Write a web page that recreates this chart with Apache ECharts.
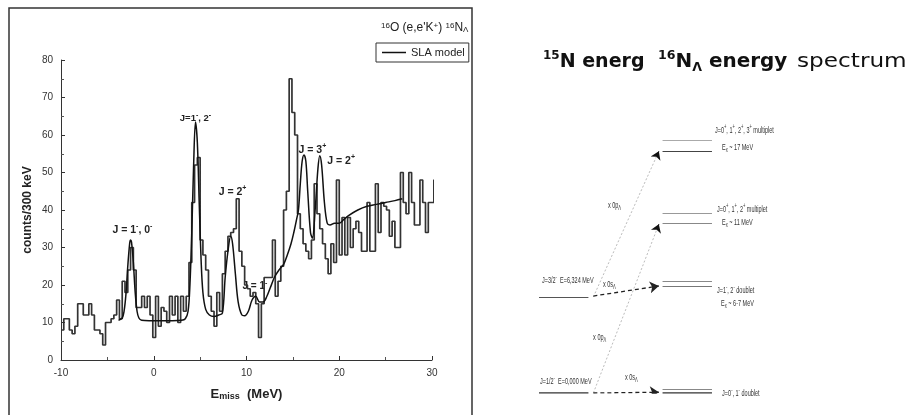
<!DOCTYPE html>
<html><head><meta charset="utf-8">
<script src="https://cdn.jsdelivr.net/npm/echarts@6/dist/echarts.min.js"></script>
<style>html,body{margin:0;padding:0;background:#fff}#c{width:913px;height:415px}</style>
</head><body><div id="c"></div>
<script>
// ---------- DATA ----------
// Histogram: counts per 300 keV bin, bins start at -10 MeV (last entry = closing edge value)
const binStart = -10;
const binWidth = 0.3;
const counts = [
  8,11,11,8,7,9,15,15,12,12, 15,12,8,8,7,4,10,10,11,12,
  16,11,21,18,24,30,24,14,14,17, 14,17,12,6,17,9,14,13,10,17,
  12,17,10,17,13,17,26,42,52,54, 32,28,24,17,13,9,18,13,23,29,
  33,34,35,43,29,25,20,19,17,18, 15,6,15,22,22,22,32,17,21,25,
  40,45,75,66,60,39,35,31,29,27, 32,47,39,35,31,27,23,31,26,48,
  28,38,28,38,30,35,37,34,29,29, 42,29,29,47,34,42,41,40,33,37,
  30,30,50,42,39,50,42,36,36,48, 42,34,42,42,48,36,36,31
];
// SLA model curve
const slaE = [-3.8,-3.4,-3.2,-3.0,-2.8,-2.6,-2.5,-2.4,-2.2,-2.0,-1.8,-1.6,-1.3,-0.5,1,2,3,3.4,3.7,3.9,
  4.1,4.3,4.5,4.7,4.9,5.1,5.3,5.6,6.0,6.5,7.0,7.4,7.7,8.0,8.3,8.5,8.8,9.1,9.5,9.8,
  10.2,10.6,11.0,11.4,11.8,12.2,12.6,13.0,13.5,14.0,14.4,14.8,15.1,15.4,15.6,15.8,16.0,16.2,16.4,16.6,
  16.9,17.1,17.4,17.7,17.9,18.1,18.4,18.7,19.0,19.5,20.0,20.5,21.0,22.0,23.0,24.0,25.0,26.0,26.8];
const slaCounts = [10.6,11.2,13,17.5,25,31,32,31.5,26,18,13,11.2,10.6,10.5,10.5,10.5,10.6,11,13,20,
  34,52,63.5,58,42,27,18,13.5,12,11.6,12,12.5,22,29,33,31,23,15.5,12,11.8,
  13,16,17,15.5,15.5,17,19.5,22,24,25.5,28,31,34,37.5,40,47,53,54.7,53,45,
  34,32.5,40,51,54.5,52,42,36.5,36,36.5,36.5,37.5,38.5,40,41,41.5,42,42.5,43];
// Peak annotations (MeV, counts)
const annoText = ['J = 1{sup|-}, 0{sup|-}','J=1{sup|-}, 2{sup|-}','J = 2{sup|+}','J = 1{sup|-}','J = 3{sup|+}','J = 2{sup|+}'];
const annoX = [-2.3, 4.5, 8.5, 10.9, 17.1, 20.2];
const annoY = [34.7, 64.5, 44.8, 19.7, 56, 53];
const xTicks = [-10, 0, 10, 20, 30];

// Level diagram (energies in MeV-like diagram units)
const coreLevelE = [0, 6.32];
const hyperLevelE = [0, 0.26, 7.04, 7.37, 11.18, 11.84, 15.92, 16.64];
const transFrom = [0, 6.38, 0, 6.32];
const transTo = [0.05, 7.04, 11.1, 15.9];
const transKind = ['s','s','p','p'];
const diagText = ['J=1/2{sup|-}  E=0,000 MeV','J=3/2{sup|-}  E=6,324 MeV','x 0s{sub|Λ}','x 0s{sub|Λ}','x 0p{sub|Λ}','x 0p{sub|Λ}',
  'J=0{sup|-}, 1{sup|-} doublet','J=1{sup|-}, 2{sup|-} doublet','E{sub|x} ~ 6-7 MeV',
  'J=0{sup|+}, 1{sup|+}, 2{sup|+} multiplet','E{sub|x} ~ 11 MeV','J=0{sup|+}, 1{sup|+}, 2{sup|+}, 3{sup|+} multiplet','E{sub|x} ~ 17 MeV'];
const diagTextX = [0.04,0.12,3.48,2.59,2.19,2.79,7.41,7.2,7.37,7.2,7.41,7.12,7.41];
const diagTextE = [0.79,7.43,1.05,7.17,3.68,12.37,0,6.78,5.92,12.1,11.25,17.3,16.18];

// ---------- CHART ----------
const F = '"Liberation Sans", Arial, sans-serif';
const D = '"DejaVu Sans", Verdana, sans-serif';
const CORE_X = [0, 2], HYP_X = [5, 7], ARR_X = [2.2, 4.85];

const histData = counts.map((c, i) => [binStart + i * binWidth, c]);
const slaData = slaE.map((e, i) => [e, slaCounts[i]]);

const coreStyles = [{color:'#333', width:2.6}, {color:'#555', width:1}];
const hypStyles = [{color:'#333', width:2.6},{color:'#888', width:1},{color:'#777', width:1},{color:'#888', width:1},
  {color:'#888', width:1.2},{color:'#999', width:1},{color:'#444', width:1.2},{color:'#aaa', width:1}];
const levelLines = [];
coreLevelE.forEach((e, i) => levelLines.push({coords:[[CORE_X[0], e],[CORE_X[1], e]], lineStyle: coreStyles[i]}));
hyperLevelE.forEach((e, i) => levelLines.push({coords:[[HYP_X[0], e],[HYP_X[1], e]], lineStyle: hypStyles[i]}));

const sLines = [], pLines = [], pHeads = [];
transKind.forEach((k, i) => {
  const a = [ARR_X[0], transFrom[i]], b = [ARR_X[1], transTo[i]];
  if (k === 's') sLines.push({coords:[a, b]});
  else {
    pLines.push({coords:[a, b]});
    const t = 0.985;
    pHeads.push({coords:[[a[0] + (b[0]-a[0])*t, a[1] + (b[1]-a[1])*t], b]});
  }
});

const supSub = (fs, w, fam, col) => ({
  base: {fontSize: fs, fontWeight: w, fontFamily: fam, lineHeight: fs + 4, color: col, fill: col},
  sup: {fontSize: Math.round(fs*0.7), fontWeight: w, fontFamily: fam, color: col, fill: col, verticalAlign: 'top', lineHeight: Math.round(fs*0.7)+1},
  sub: {fontSize: Math.round(fs*0.7), fontWeight: w, fontFamily: fam, color: col, fill: col, verticalAlign: 'bottom', lineHeight: Math.round(fs*0.7)+1}
});
const toRich = s => '{base|' + s.replace(/\{(sup|sub)\|([^}]*)\}/g, '}{$1|$2}{base|') + '}';

const annoData = annoX.map((x, i) => ({value:[x, annoY[i]], name: annoText[i]}));
const annoFont = [10.5, 9.5, 10.5, 10, 10.5, 10.5];
const diagData = diagTextX.map((x, i) => [x, diagTextE[i]]);
const diagRich = supSub(9.5, 'normal', F, '#333');

const chart = echarts.init(document.getElementById('c'));
chart.setOption({
  animation: false,
  backgroundColor: '#fff',
  title: {
    text: '{sup|16}O (e,e\'K{sup|+}) {sup|16}N{sub|Λ}',
    left: 376, top: 17,
    textStyle: {fontSize: 12, fontWeight: 'normal', fontFamily: F, color: '#222', rich: {
      sup: {fontSize: 8, fontFamily: F, color:'#222', verticalAlign: 'top', lineHeight: 8},
      sub: {fontSize: 8, fontFamily: F, color:'#222', verticalAlign: 'bottom', lineHeight: 8}}}
  },
  legend: {
    data: ['SLA model'], left: 376, top: 43,
    icon: 'rect', itemWidth: 24, itemHeight: 1.5, itemGap: 6,
    borderColor: '#333', borderWidth: 1, padding: [4, 4, 4, 6],
    textStyle: {fontSize: 11, fontFamily: F, color: '#222'}
  },
  grid: [
    {left: 61, top: 60, width: 371, height: 300},
    {left: 539, top: 89, width: 247.1, height: 304}
  ],
  xAxis: [{
    type: 'value', gridIndex: 0, min: -10, max: 30, interval: 10,
    axisLine: {onZero: false, lineStyle: {color: '#333', width: 1}},
    axisTick: {inside: true, length: 4, lineStyle: {color: '#333'}},
    minorTick: {show: true, splitNumber: 2, length: 3, lineStyle: {color: '#555'}},
    splitLine: {show: false},
    axisLabel: {fontSize: 10, fontFamily: F, color: '#333', margin: 8,
      formatter: v => xTicks.includes(v) ? String(v) : ''},
    name: 'E{sub|miss}  (MeV)', nameLocation: 'middle', nameGap: 28,
    nameTextStyle: {fontSize: 13, fontWeight: 'bold', fontFamily: F, color: '#222', rich: {
      sub: {fontSize: 9, fontWeight: 'bold', fontFamily: F, color: '#222', verticalAlign: 'bottom', lineHeight: 9}}}
  }, {
    type: 'value', gridIndex: 1, min: 0, max: 10, show: false
  }],
  yAxis: [{
    type: 'value', gridIndex: 0, min: 0, max: 80, interval: 10,
    axisLine: {show: true, onZero: false, lineStyle: {color: '#333', width: 1}},
    axisTick: {show: true, inside: true, length: 4, lineStyle: {color: '#333'}},
    minorTick: {show: true, splitNumber: 2, length: 3, lineStyle: {color: '#555'}},
    splitLine: {show: false},
    axisLabel: {fontSize: 10, fontFamily: F, color: '#333', margin: 8},
    name: 'counts/300 keV', nameLocation: 'middle', nameGap: 27, nameRotate: 90,
    nameTextStyle: {fontSize: 12, fontWeight: 'bold', fontFamily: F, color: '#222'}
  }, {
    type: 'value', gridIndex: 1, min: 0, max: 20, show: false
  }],
  series: [
    {type: 'line', name: 'data', xAxisIndex: 0, yAxisIndex: 0, data: histData, step: 'end',
     symbol: 'none', clip: false, silent: true, lineStyle: {color: '#333', width: 1.7}},
    {type: 'line', name: 'SLA model', xAxisIndex: 0, yAxisIndex: 0, data: slaData, smooth: 0.35,
     symbol: 'none', clip: false, silent: true, lineStyle: {color: '#111', width: 1.5}, itemStyle: {color: '#111'}},
    {type: 'custom', name: 'anno', coordinateSystem: 'cartesian2d', xAxisIndex: 0, yAxisIndex: 0, silent: true,
     data: annoData,
     renderItem: (params, api) => {
       const p = api.coord([api.value(0), api.value(1)]);
       const fs = annoFont[params.dataIndex];
       return {type: 'text', x: p[0], y: p[1],
         style: {text: toRich(annoText[params.dataIndex]), align: 'center', verticalAlign: 'middle',
           fill: '#222', rich: supSub(fs, 'bold', F, '#222')}};
     }},
    {type: 'lines', coordinateSystem: 'cartesian2d', xAxisIndex: 1, yAxisIndex: 1, data: levelLines, silent: true,
     symbol: 'none', lineStyle: {color: '#555', width: 1, opacity: 1}},
    {type: 'lines', coordinateSystem: 'cartesian2d', xAxisIndex: 1, yAxisIndex: 1, data: pLines, silent: true,
     symbol: 'none', lineStyle: {color: '#bbb', width: 1, type: [2, 2], opacity: 1}},
    {type: 'lines', coordinateSystem: 'cartesian2d', xAxisIndex: 1, yAxisIndex: 1, data: pHeads, silent: true,
     symbol: ['none', 'arrow'], symbolSize: [0, 8], lineStyle: {color: '#111', width: 1, opacity: 1}},
    {type: 'lines', coordinateSystem: 'cartesian2d', xAxisIndex: 1, yAxisIndex: 1, data: sLines, silent: true,
     symbol: ['none', 'arrow'], symbolSize: [0, 9], lineStyle: {color: '#222', width: 1.3, type: [4, 3], opacity: 1}},
    {type: 'custom', name: 'diag', coordinateSystem: 'cartesian2d', xAxisIndex: 1, yAxisIndex: 1, silent: true,
     data: diagData,
     renderItem: (params, api) => {
       const p = api.coord([api.value(0), api.value(1)]);
       return {type: 'text', x: p[0], y: p[1], scaleX: 0.58,
         style: {text: toRich(diagText[params.dataIndex]), align: 'left', verticalAlign: 'middle',
           fill: '#333', rich: diagRich}};
     }}
  ],
  graphic: [
    {type: 'rect', silent: true, shape: {x: 9, y: 8, width: 463, height: 420},
     style: {fill: 'none', stroke: '#333', lineWidth: 1.5}},
    {type: 'text', silent: true, x: 543, y: 50,
     style: {text: '{sup|15}{b|N energ}', verticalAlign: 'top', fill: '#111', rich: {
       b: {fontSize: 19, fontWeight: 'bold', fontFamily: D, lineHeight: 24, fill: '#111'},
       sup: {fontSize: 12, fontWeight: 'bold', fontFamily: D, lineHeight: 12, verticalAlign: 'top', fill: '#111'}}}},
    {type: 'text', silent: true, x: 658, y: 50, scaleX: 1.05,
     style: {text: '{sup|16}{b|N}{sub|Λ}{b| energy}', verticalAlign: 'top', fill: '#111', rich: {
       b: {fontSize: 19, fontWeight: 'bold', fontFamily: D, lineHeight: 24, fill: '#111'},
       sup: {fontSize: 12, fontWeight: 'bold', fontFamily: D, lineHeight: 12, verticalAlign: 'top', fill: '#111'},
       sub: {fontSize: 12, fontWeight: 'bold', fontFamily: D, lineHeight: 12, verticalAlign: 'bottom', fill: '#111'}}}},
    {type: 'text', silent: true, x: 797, y: 50, scaleX: 1.22,
     style: {text: 'spectrum', verticalAlign: 'top', fill: '#111', fontSize: 19, fontFamily: D, lineHeight: 24}}
  ]
});
</script>
</body></html>
